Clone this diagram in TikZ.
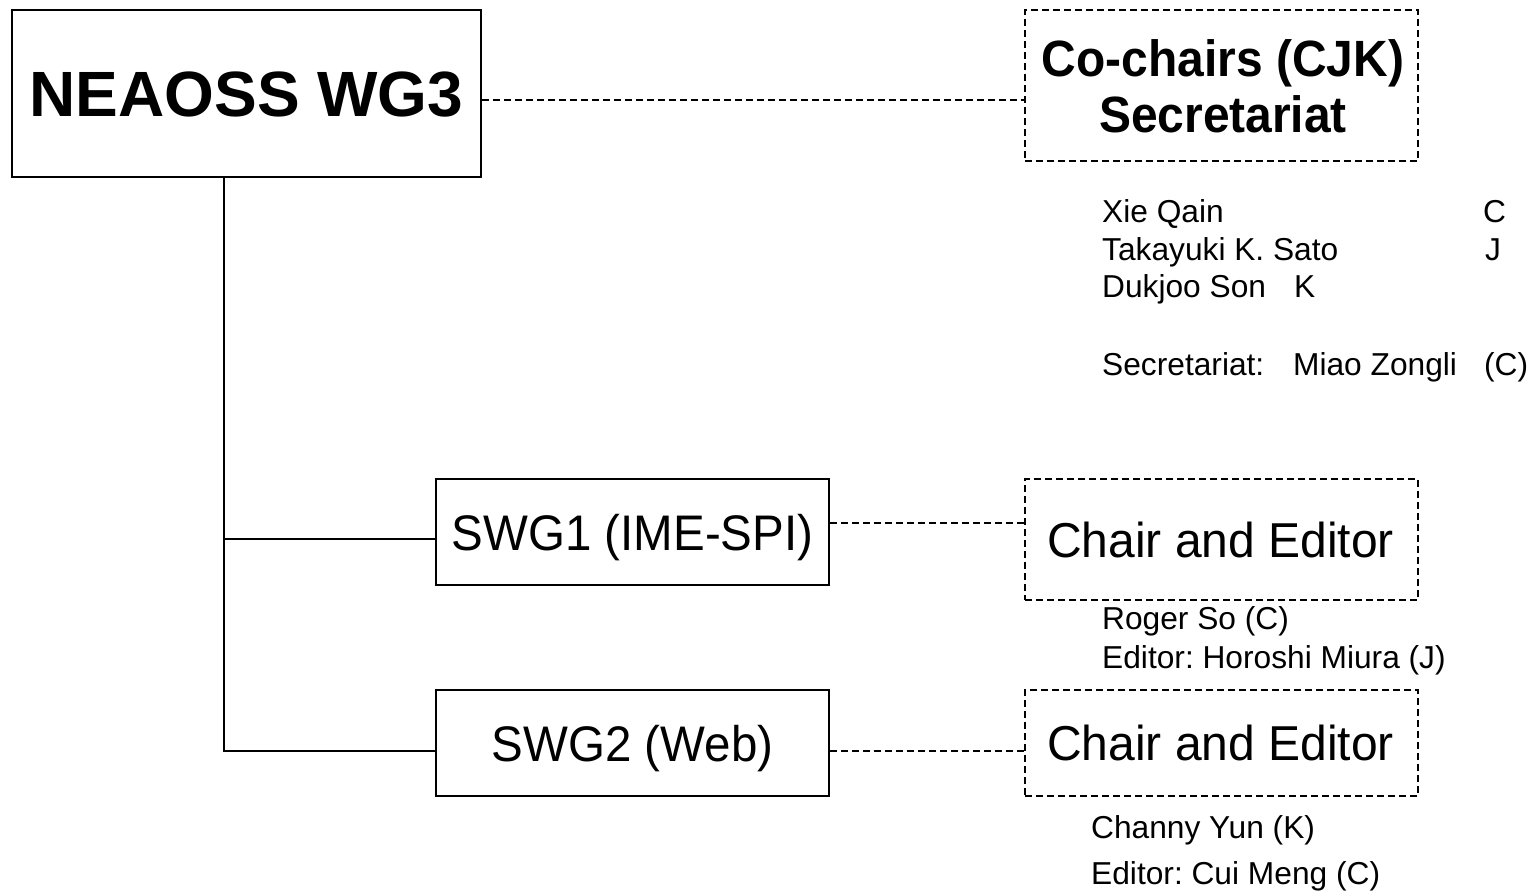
\documentclass[tikz,border=0pt]{standalone}
\usepackage{fontspec}
\setmainfont{Liberation Sans}
\usepackage{graphicx}
\usetikzlibrary{calc}
\newcommand{\sx}[2]{\scalebox{#1}[1]{#2}}
\tikzset{
  solidbox/.style={draw, line width=1.6pt, inner sep=0pt, text depth=0pt},
  dashbox/.style={draw, line width=1.5pt, dash pattern=on 7pt off 4pt, inner sep=0pt, text depth=0pt},
  conn/.style={line width=1.3pt},
  dconn/.style={line width=1.4pt, dash pattern=on 7pt off 4pt},
  small/.style={anchor=base west, inner sep=0pt, font=\fontsize{31.7}{36}\selectfont},
}
\frenchspacing
\begin{document}
\begin{tikzpicture}[x=1pt, y=-1pt]
\useasboundingbox (0,0) rectangle (1539,891);
% boxes
\node[solidbox, minimum width=469pt, minimum height=167pt, text height=46pt,
      font=\fontsize{64}{70}\selectfont\bfseries] (neaoss) at (246.5,93.5) {NEAOSS WG3};
\node[dashbox, minimum width=393pt, minimum height=151pt] (cochair) at (1221.5,85.5) {};
\node[inner sep=0pt, anchor=base, font=\fontsize{51}{55}\selectfont\bfseries] (cochairA) at (1223,77) {\sx{0.94}{Co-chairs (CJK)}};
\node[inner sep=0pt, anchor=base, font=\fontsize{51}{55}\selectfont\bfseries] (cochairB) at (1223,132) {\sx{0.94}{Secretariat}};
\node[solidbox, minimum width=393pt, minimum height=106pt, text height=36pt,
      font=\fontsize{50}{56}\selectfont] (swg1) at (632.5,532) {\sx{0.95}{SWG1 (IME-SPI)}};
\node[solidbox, minimum width=393pt, minimum height=106pt, text height=36pt,
      font=\fontsize{50}{56}\selectfont] (swg2) at (632.5,743) {\sx{0.95}{SWG2 (Web)}};
\node[dashbox, minimum width=393pt, minimum height=121pt, text height=35pt,
      font=\fontsize{49}{55}\selectfont] (chair1) at (1221.5,539.5) {\hspace*{-2pt}\sx{0.98}{Chair and Editor}};
\node[dashbox, minimum width=393pt, minimum height=106pt, text height=35pt,
      font=\fontsize{49}{55}\selectfont] (chair2) at (1221.5,743) {\hspace*{-2pt}\sx{0.98}{Chair and Editor}};
% connectors
\coordinate (trunk) at ([xshift=-22.5pt]neaoss.south);
\coordinate (s1in) at ([yshift=-7pt]swg1.west);
\coordinate (s2in) at ([yshift=-8pt]swg2.west);
\draw[conn] (trunk) |- (s2in);
\draw[conn] (trunk |- s1in) -- (s1in);
\coordinate (nout) at ([yshift=-6.5pt]neaoss.east);
\draw[dconn] (nout) -- (nout -| cochair.west);
\coordinate (s1out) at ([yshift=9pt]swg1.east);
\draw[dconn] (s1out) -- (s1out -| chair1.west);
\coordinate (s2out) at ([yshift=-8pt]swg2.east);
\draw[dconn] (s2out) -- (s2out -| chair2.west);
% member texts
\node[small] (m1) at (1102,222) {\makebox[381pt][l]{Xie Qain}C};
\node[small] (m2) at (1102,260) {\makebox[383pt][l]{Takayuki K. Sato}J};
\node[small] (m3) at (1102,297) {\makebox[192pt][l]{Dukjoo Son}K};
\node[small] (m4) at (1102,375) {\makebox[191pt][l]{Secretariat:}\makebox[191pt][l]{Miao Zongli}(C)};
\node[small] (r1) at (1102,629) {Roger So (C)};
\node[small] (r2) at (1102,668) {Editor: Horoshi Miura (J)};
\node[small] (c1) at (1091,838) {Channy Yun (K)};
\node[small] (c2) at (1091,884) {Editor: Cui Meng (C)};
\end{tikzpicture}
\end{document}
